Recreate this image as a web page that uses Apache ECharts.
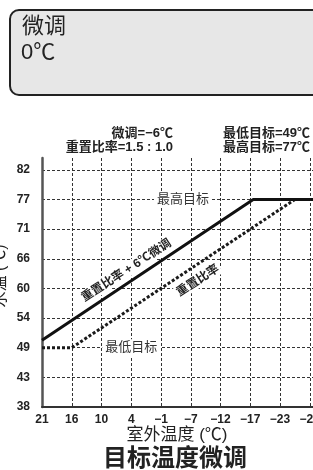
<!DOCTYPE html>
<html>
<head>
<meta charset="utf-8">
<script src="https://cdn.jsdelivr.net/npm/echarts@6/dist/echarts.min.js"></script>
<style>
html,body{margin:0;padding:0;background:#fff;}
#chart{width:313px;height:470px;}
</style>
</head>
<body>
<div id="chart"></div>
<script>
// Tick labels (evenly spaced positions on both axes)
const xLabels = ['21', '16', '10', '4', '\u22121', '\u22127', '\u221212', '\u221217', '\u221223', '\u221228'];
const yLabels = ['38', '43', '49', '54', '60', '66', '71', '77', '82'];
// Series values, in tick-index units: [x index, y index]
const offsetCurve = [[0, 2.25], [7.1, 7], [10, 7]];        // 重置比率 + 6℃微调
const resetCurve = [[0, 2], [1, 2], [8.5, 7], [10, 7]];    // 重置比率

const FONT = "'Liberation Sans','Noto Sans CJK SC',sans-serif";
const chart = echarts.init(document.getElementById('chart'), null, {renderer: 'canvas'});

const gridLine = {show: true, showMinLine: false, showMaxLine: false,
  lineStyle: {color: '#333', width: 1, type: [3, 2]}};

const option = {
  animation: false,
  backgroundColor: '#fff',
  textStyle: {fontFamily: FONT},
  grid: {left: 42, top: 158, bottom: 63, right: -26.5, containLabel: false, outerBoundsMode: 'none'},
  xAxis: {
    type: 'value', min: 0, max: 10, interval: 1,
    axisLine: {show: true, lineStyle: {color: '#333', width: 2}},
    axisTick: {show: false},
    axisLabel: {
      margin: 7, color: '#222', fontSize: 12, fontWeight: 'bold', fontFamily: FONT,
      showMaxLabel: false, hideOverlap: false,
      formatter: v => (Number.isInteger(v) && xLabels[v] !== undefined) ? xLabels[v] : ''
    },
    splitLine: gridLine
  },
  yAxis: {
    type: 'value', min: 0, max: 8.4, interval: 1,
    axisLine: {show: true, lineStyle: {color: '#555', width: 2.5}},
    axisTick: {show: false},
    axisLabel: {
      margin: 12, color: '#222', fontSize: 12, fontWeight: 'bold', fontFamily: FONT,
      showMaxLabel: false,
      formatter: v => (Number.isInteger(v) && yLabels[v] !== undefined) ? yLabels[v] : ''
    },
    splitLine: gridLine
  },
  series: [
    {
      type: 'line', data: resetCurve, symbol: 'none', z: 3,
      lineStyle: {color: '#1a1a1a', width: 3, type: [3, 2]},
      markPoint: {
        symbol: 'circle', symbolSize: 0, z: 5,
        label: {show: true, position: 'inside', backgroundColor: '#fff', padding: [2, 3],
          fontFamily: FONT},
        data: [
          {coord: [4.74, 7], label: {formatter: '最高目标', fontSize: 13, color: '#333'}},
          {coord: [3.0, 2], label: {formatter: '最低目标', fontSize: 13, color: '#333'}},
          {coord: [5.24, 4.26], label: {formatter: '重置比率', fontSize: 12, fontWeight: 'bold',
            color: '#222', rotate: 33, padding: [1, 2]}}
        ]
      }
    },
    {
      type: 'line', data: offsetCurve, symbol: 'none', z: 4,
      lineStyle: {color: '#111', width: 3},
      markPoint: {
        symbol: 'circle', symbolSize: 0, z: 5,
        label: {show: true, position: 'inside', backgroundColor: '#fff', padding: [1, 2],
          fontFamily: FONT},
        data: [
          {coord: [2.84, 4.6], label: {formatter: '重置比率 + 6℃微调', fontSize: 12,
            fontWeight: 'bold', color: '#222', rotate: 33}}
        ]
      }
    }
  ],
  graphic: [
    {type: 'rect', z: 0, shape: {x: 10, y: 10, width: 330, height: 85, r: 9},
      style: {fill: '#e7e7e7', stroke: '#222', lineWidth: 2}},
    {type: 'text', x: 22, y: 27, style: {text: '微调', font: '22px ' + FONT, fill: '#222', verticalAlign: 'middle'}},
    {type: 'text', x: 21, y: 53, style: {text: '0℃', font: '22px ' + FONT, fill: '#222', verticalAlign: 'middle'}},
    {type: 'text', x: 173, y: 133, style: {text: '微调=\u22126℃', font: 'bold 13px ' + FONT, fill: '#222', align: 'right', verticalAlign: 'middle'}},
    {type: 'text', x: 173, y: 147, style: {text: '重置比率=1.5 : 1.0', font: 'bold 13px ' + FONT, fill: '#222', align: 'right', verticalAlign: 'middle'}},
    {type: 'text', x: 223, y: 133, style: {text: '最低目标=49℃', font: 'bold 13px ' + FONT, fill: '#222', align: 'left', verticalAlign: 'middle'}},
    {type: 'text', x: 223, y: 147, style: {text: '最高目标=77℃', font: 'bold 13px ' + FONT, fill: '#222', align: 'left', verticalAlign: 'middle'}},
    {type: 'text', x: 1, y: 276, rotation: Math.PI / 2,
      style: {text: '水温 (℃)', font: '16px ' + FONT, fill: '#222', align: 'center', verticalAlign: 'middle'}},
    {type: 'text', x: 177, y: 435, style: {text: '室外温度 (℃)', font: '17px ' + FONT, fill: '#222', align: 'center', verticalAlign: 'middle'}},
    {type: 'text', x: 175, y: 459, style: {text: '目标温度微调', font: 'bold 24px ' + FONT, fill: '#222', align: 'center', verticalAlign: 'middle'}}
  ]
};
chart.setOption(option);
</script>
</body>
</html>
